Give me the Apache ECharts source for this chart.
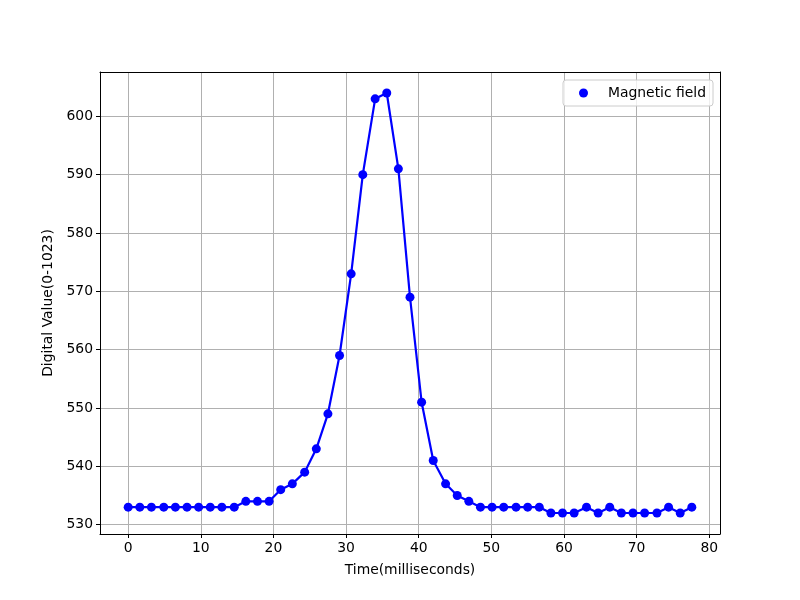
<!DOCTYPE html>
<html>
<head>
<meta charset="utf-8">
<script src="https://cdn.jsdelivr.net/npm/echarts@6/dist/echarts.min.js"></script>
<style>html,body{margin:0;padding:0;background:#fff}#c{width:800px;height:600px}</style>
</head>
<body>
<div id="c"></div>
<script>
const timeMs = [0, 1.6, 3.2, 4.9, 6.5, 8.1, 9.7, 11.3, 12.9, 14.6, 16.2, 17.8, 19.4, 21.0, 22.6, 24.3, 25.9, 27.5, 29.1, 30.7, 32.3, 34.0, 35.6, 37.2, 38.8, 40.4, 42.0, 43.7, 45.3, 46.9, 48.5, 50.1, 51.7, 53.4, 55.0, 56.6, 58.2, 59.8, 61.4, 63.1, 64.7, 66.3, 67.9, 69.5, 71.1, 72.8, 74.4, 76.0, 77.6];
const digitalValue = [533, 533, 533, 533, 533, 533, 533, 533, 533, 533, 534, 534, 534, 536, 537, 539, 543, 549, 559, 573, 590, 603, 604, 591, 569, 551, 541, 537, 535, 534, 533, 533, 533, 533, 533, 533, 532, 532, 532, 533, 532, 533, 532, 532, 532, 532, 533, 532, 533];
const seriesName = 'Magnetic field';
const xTitle = 'Time(milliseconds)';
const yTitle = 'Digital Value(0-1023)';

const pts = timeMs.map((t, i) => [t, digitalValue[i]]);
const font = 'DejaVu Sans';
const X_MIN = -3.88, X_MAX = 81.48, Y_MIN = 528.4, Y_MAX = 607.6;
const chart = echarts.init(document.getElementById('c'), null, {renderer: 'canvas'});
const frameAxis = {
  axisLine: {show: true, onZero: false, lineStyle: {color: '#000', width: 1}},
  axisTick: {show: false}, axisLabel: {show: false}, splitLine: {show: false}
};
chart.setOption({
  animation: false,
  backgroundColor: '#fff',
  grid: {left: 100, right: 80, top: 72, bottom: 66, containLabel: false},
  legend: {
    data: [{name: seriesName, icon: 'circle'}],
    right: 87, top: 80,
    itemWidth: 9, itemHeight: 9, itemGap: 10,
    padding: [6, 7, 6, 16],
    backgroundColor: 'rgba(255,255,255,0.8)',
    borderColor: '#cccccc', borderWidth: 1, borderRadius: 3,
    textStyle: {fontFamily: font, fontSize: 13.9, color: '#000', padding: [0, 0, 0, 15]}
  },
  xAxis: [{
    type: 'value', min: X_MIN, max: X_MAX, splitNumber: 8,
    name: xTitle, nameLocation: 'middle', nameGap: 29,
    nameTextStyle: {fontFamily: font, fontSize: 13.9, color: '#000'},
    axisLine: {show: true, onZero: false, lineStyle: {color: '#000', width: 1}},
    axisTick: {show: true, length: 4, lineStyle: {color: '#000'}},
    axisLabel: {margin: 7, fontFamily: font, fontSize: 13.9, color: '#000', showMinLabel: false, showMaxLabel: false},
    splitLine: {show: true, lineStyle: {color: '#b0b0b0', width: 1}}
  }, Object.assign({type: 'value', position: 'top', min: X_MIN, max: X_MAX}, frameAxis)],
  yAxis: [{
    type: 'value', min: Y_MIN, max: Y_MAX, splitNumber: 8,
    name: yTitle, nameLocation: 'middle', nameGap: 42,
    nameTextStyle: {fontFamily: font, fontSize: 13.9, color: '#000'},
    axisLine: {show: true, onZero: false, lineStyle: {color: '#000', width: 1}},
    axisTick: {show: true, length: 4, lineStyle: {color: '#000'}},
    axisLabel: {margin: 7, fontFamily: font, fontSize: 13.9, color: '#000', showMinLabel: false, showMaxLabel: false},
    splitLine: {show: true, lineStyle: {color: '#b0b0b0', width: 1}}
  }, Object.assign({type: 'value', position: 'right', min: Y_MIN, max: Y_MAX}, frameAxis)],
  series: [{
    name: 'line', type: 'line', data: pts, showSymbol: false, symbol: 'none',
    lineStyle: {color: '#0000ff', width: 2.2}, z: 2
  }, {
    name: seriesName, type: 'scatter', data: pts, symbol: 'circle', symbolSize: 9,
    itemStyle: {color: '#0000ff', opacity: 1}, z: 3
  }]
});
</script>
</body>
</html>
